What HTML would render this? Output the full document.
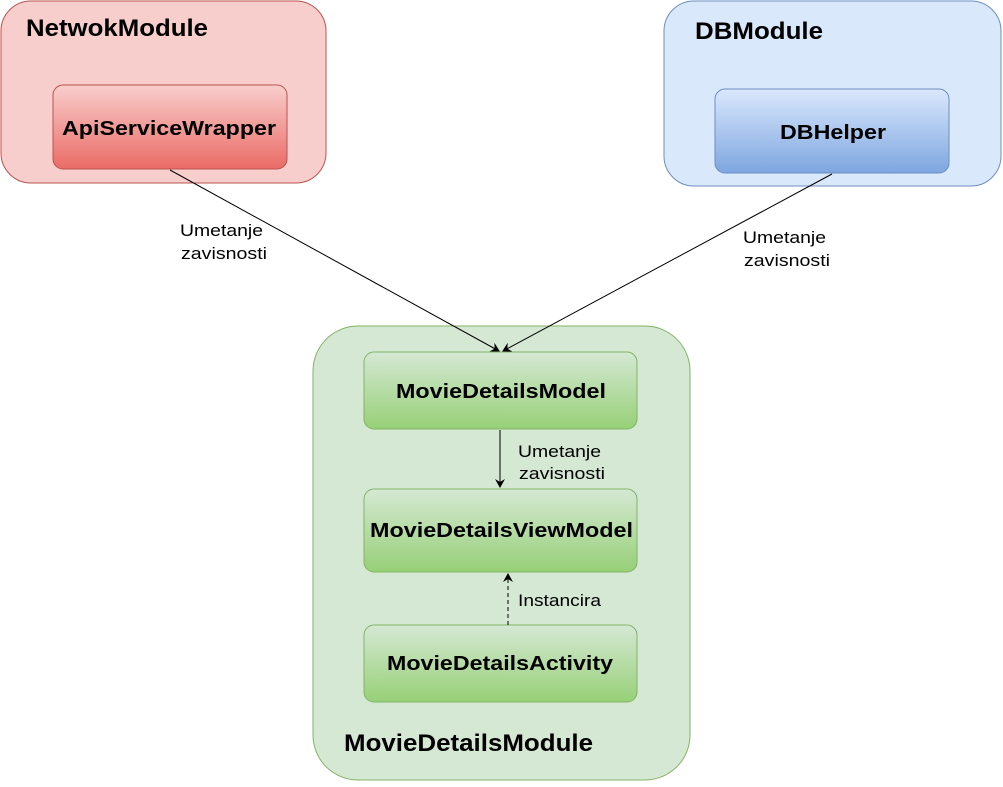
<!DOCTYPE html>
<html><head><meta charset="utf-8"><style>
body{margin:0;width:1003px;height:782px;background:#fff;overflow:hidden;font-family:"Liberation Sans",sans-serif}
</style></head><body>
<svg width="1003" height="782" xmlns="http://www.w3.org/2000/svg" font-family="Liberation Sans, sans-serif">
<defs>
<linearGradient id="r" x1="0" y1="0" x2="0" y2="1"><stop offset="0" stop-color="#f8cecc"/><stop offset="1" stop-color="#ea6b66"/></linearGradient>
<linearGradient id="b" x1="0" y1="0" x2="0" y2="1"><stop offset="0" stop-color="#dae8fc"/><stop offset="1" stop-color="#7ea6e0"/></linearGradient>
<linearGradient id="g" x1="0" y1="0" x2="0" y2="1"><stop offset="0" stop-color="#d5e8d4"/><stop offset="1" stop-color="#97d077"/></linearGradient>
<marker id="a" markerWidth="10" markerHeight="10" refX="8" refY="5" orient="auto" markerUnits="userSpaceOnUse"><path d="M0,0 L9,5 L0,10 L3,5 Z" fill="#000"/></marker>
</defs>
<rect x="1" y="1" width="325" height="182" rx="30" fill="#f8cecc" stroke="#b85450"/>
<text x="26" y="36" font-size="24" font-weight="bold" textLength="182" lengthAdjust="spacingAndGlyphs">NetwokModule</text>
<rect x="53" y="85" width="234" height="84" rx="10" fill="url(#r)" stroke="#b85450"/>
<text x="62" y="135" font-size="20" font-weight="bold" textLength="214" lengthAdjust="spacingAndGlyphs">ApiServiceWrapper</text>
<rect x="664" y="1" width="337" height="185" rx="30" fill="#dae8fc" stroke="#6c8ebf"/>
<text x="695" y="39" font-size="24" font-weight="bold" textLength="128" lengthAdjust="spacingAndGlyphs">DBModule</text>
<rect x="715" y="89" width="234" height="84" rx="10" fill="url(#b)" stroke="#6c8ebf"/>
<text x="780" y="139" font-size="20" font-weight="bold" textLength="106" lengthAdjust="spacingAndGlyphs">DBHelper</text>
<rect x="313" y="326" width="377" height="454" rx="45" fill="#d5e8d4" stroke="#82b366"/>
<text x="344" y="751" font-size="24" font-weight="bold" textLength="249" lengthAdjust="spacingAndGlyphs">MovieDetailsModule</text>
<rect x="364" y="352" width="273" height="77" rx="10" fill="url(#g)" stroke="#82b366"/>
<text x="396" y="398" font-size="20" font-weight="bold" textLength="210" lengthAdjust="spacingAndGlyphs">MovieDetailsModel</text>
<rect x="364" y="489" width="273" height="83" rx="10" fill="url(#g)" stroke="#82b366"/>
<text x="370" y="537" font-size="20" font-weight="bold" textLength="263" lengthAdjust="spacingAndGlyphs">MovieDetailsViewModel</text>
<rect x="364" y="625" width="273" height="77" rx="10" fill="url(#g)" stroke="#82b366"/>
<text x="387" y="670" font-size="20" font-weight="bold" textLength="226" lengthAdjust="spacingAndGlyphs">MovieDetailsActivity</text>
<line x1="170" y1="170" x2="499" y2="351" stroke="#000" marker-end="url(#a)"/>
<line x1="832" y1="174" x2="503" y2="351" stroke="#000" marker-end="url(#a)"/>
<line x1="500" y1="430" x2="500" y2="487" stroke="#000" marker-end="url(#a)"/>
<line x1="508" y1="625" x2="508" y2="574" stroke="#000" stroke-dasharray="4,3" marker-end="url(#a)"/>
<g font-size="17">
<text x="180" y="236" textLength="83" lengthAdjust="spacingAndGlyphs">Umetanje</text><text x="181" y="259" textLength="86" lengthAdjust="spacingAndGlyphs">zavisnosti</text>
<text x="743" y="243" textLength="83" lengthAdjust="spacingAndGlyphs">Umetanje</text><text x="744" y="266" textLength="86" lengthAdjust="spacingAndGlyphs">zavisnosti</text>
<text x="518" y="457" textLength="83" lengthAdjust="spacingAndGlyphs">Umetanje</text><text x="519" y="479" textLength="86" lengthAdjust="spacingAndGlyphs">zavisnosti</text>
<text x="518" y="606" textLength="83" lengthAdjust="spacingAndGlyphs">Instancira</text>
</g>
</svg>
</body></html>
